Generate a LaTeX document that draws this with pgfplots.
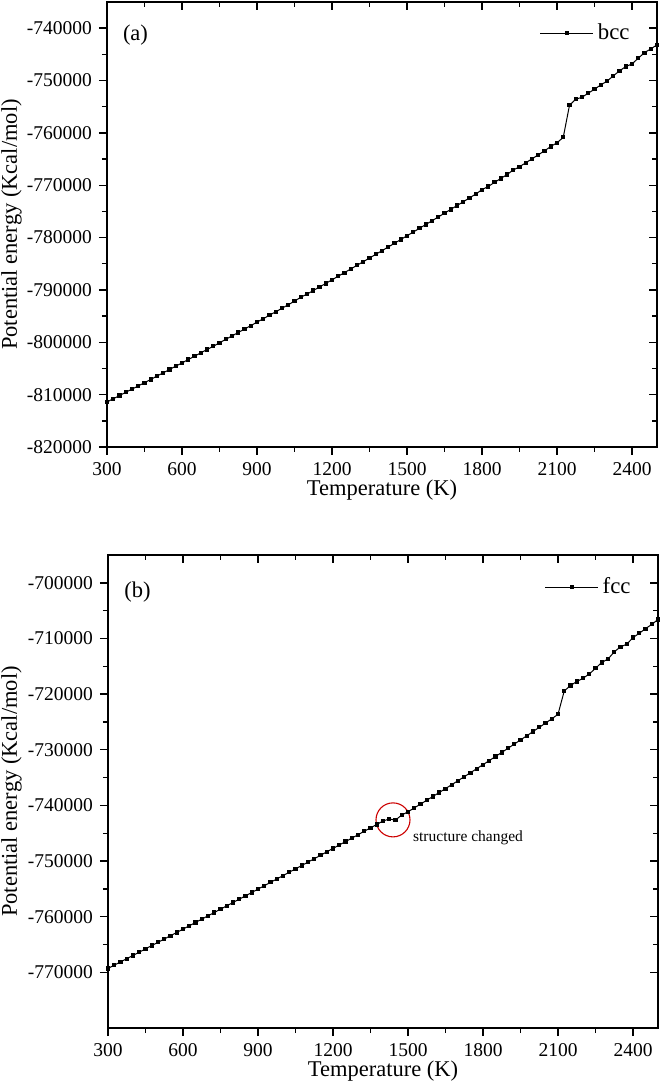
\documentclass[border=0pt]{standalone}
\usepackage{fontspec}
\setmainfont{Liberation Serif}
\usepackage{pgfplots}
\pgfplotsset{compat=1.18}
\usepackage{pgfplotstable}

\pgfplotstableread{
T E
300 -811400
325 -810790
350 -810180
375 -809560
400 -808950
425 -808330
450 -807710
475 -807090
500 -806460
525 -805830
550 -805200
575 -804570
600 -803940
625 -803300
650 -802660
675 -802020
700 -801380
725 -800780
750 -800090
775 -799440
800 -798790
825 -798130
850 -797480
875 -796820
900 -796160
925 -795500
950 -794830
975 -794170
1000 -793500
1025 -792830
1050 -792150
1075 -791400
1100 -790800
1125 -790120
1150 -789440
1175 -788760
1200 -788070
1225 -787380
1250 -786690
1275 -786000
1300 -785300
1325 -784610
1350 -783910
1375 -783200
1400 -782500
1425 -781800
1450 -781090
1475 -780380
1500 -779660
1525 -778950
1550 -778230
1575 -777510
1600 -776790
1625 -776070
1650 -775340
1675 -774620
1700 -773890
1725 -773160
1750 -772420
1775 -771680
1800 -770850
1825 -770250
1850 -769460
1875 -768720
1900 -767970
1925 -767100
1950 -766470
1975 -765710
2000 -764960
2025 -764200
2050 -763440
2075 -762600
2100 -761900
2125 -760850
2150 -754720
2175 -753580
2200 -753190
2225 -752430
2250 -751660
2275 -750840
2300 -750130
2325 -749120
2350 -748160
2375 -747340
2400 -746830
2425 -745740
2450 -744670
2475 -743960
2500 -743190
}\bcc

\pgfplotstableread{
T E
300 -769300
325 -768720
350 -768130
375 -767550
400 -766960
425 -766370
450 -765780
475 -765190
500 -764600
525 -764010
550 -763420
575 -762830
600 -762240
625 -761630
650 -761040
675 -760440
700 -759840
725 -759250
750 -758650
775 -758050
800 -757450
825 -756850
850 -756250
875 -755650
900 -755040
925 -754440
950 -753830
975 -753230
1000 -752620
1025 -752010
1050 -751410
1075 -750800
1100 -750190
1125 -749580
1150 -748970
1175 -748340
1200 -747730
1225 -747120
1250 -746500
1275 -745890
1300 -745270
1325 -744650
1350 -744030
1375 -743420
1400 -742800
1425 -742440
1450 -742630
1475 -741730
1500 -741140
1525 -740450
1550 -739770
1575 -739070
1600 -738380
1625 -737680
1650 -736980
1675 -736270
1700 -735560
1725 -734840
1750 -734120
1775 -733400
1800 -732670
1825 -731950
1850 -731210
1875 -730480
1900 -729730
1925 -728990
1950 -728240
1975 -727490
2000 -726730
2025 -725970
2050 -725210
2075 -724440
2100 -723630
2125 -719430
2150 -718460
2175 -717740
2200 -717150
2225 -716380
2250 -715370
2275 -714300
2300 -713700
2325 -712400
2350 -711500
2375 -711030
2400 -709840
2425 -709070
2450 -708240
2475 -707470
2500 -706580
}\fcc

\pgfplotsset{
  base/.style={
    scale only axis, width=275pt, anchor=south west,
    xmin=300, xmax=2500,
    xtick={300,600,...,2400}, minor x tick num=1, minor y tick num=1,
    axis line style={line width=0.9pt, black},
    every tick/.style={line width=0.7pt, black},
    major tick length=4pt, minor tick length=2.5pt,
    scaled ticks=false,
    /pgf/number format/assume math mode=true,
    /pgf/number format/1000 sep={},
    yticklabel style={/pgf/number format/fixed, /pgf/number format/precision=0},
    tick label style={font=\fontsize{9.75}{11}\selectfont},
  },
  outer/.style={
    base, tick align=outside, xtick pos=left, ytick pos=left,
    xlabel={Temperature (K)}, ylabel={Potential energy (Kcal/mol)},
    label style={font=\fontsize{11.25}{13}\selectfont},
    legend style={draw=none, fill=none, anchor=east, inner sep=0pt,
      font=\fontsize{11.4}{13}\selectfont},
    legend cell align=left,
    legend image code/.code={\draw[##1, mark repeat=2, mark phase=2] plot coordinates {(0pt,0pt) (13.25pt,0pt) (26.5pt,0pt)};},
  },
  inner/.style={
    base, tick align=inside, xtick pos=right, ytick pos=right,
    xticklabels={}, yticklabels={},
  },
  ser/.style={black, line width=0.5pt, mark=square*, mark size=0.8pt, mark options={solid}},
}

\begin{document}
\begin{tikzpicture}
\useasboundingbox (0,0) rectangle (331pt,541pt);
% panel (a)
\begin{axis}[outer, at={(53.5pt,317.5pt)}, height=222.5pt,
  ymin=-820000, ymax=-735000,
  ytick={-820000,-810000,-800000,-790000,-780000,-770000,-760000,-750000,-740000},
  xlabel style={at={(axis description cs:0.5,-0.0966)}, anchor=center},
  ylabel style={at={(axis description cs:-0.1736,0.5)}, anchor=center},
  legend style={at={(axis description cs:0.958,0.9297)}}]
\addplot[ser] table[x=T, y=E] {\bcc};
\addlegendentry{bcc}
\node[font=\fontsize{11.25}{13}\selectfont] at (axis description cs:0.0518,0.926) {(a)};
\end{axis}
\begin{axis}[inner, at={(53.5pt,317.5pt)}, height=222.5pt,
  ymin=-820000, ymax=-735000,
  ytick={-820000,-810000,-800000,-790000,-780000,-770000,-760000,-750000,-740000}]
\end{axis}
% panel (b)
\begin{axis}[outer, at={(54pt,27pt)}, height=236.5pt,
  ymin=-780000, ymax=-695000,
  ytick={-770000,-760000,-750000,-740000,-730000,-720000,-710000,-700000},
  xlabel style={at={(axis description cs:0.5,-0.0909)}, anchor=center},
  ylabel style={at={(axis description cs:-0.1755,0.5)}, anchor=center},
  legend style={at={(axis description cs:0.958,0.9323)}}]
\addplot[ser] table[x=T, y=E] {\fcc};
\addlegendentry{fcc}
\node[font=\fontsize{11.25}{13}\selectfont] at (axis description cs:0.0536,0.922) {(b)};
\draw[red!80!black, line width=0.55pt] (axis cs:1440,-742600) circle[radius=8.5pt];
\node[anchor=west, font=\fontsize{7.75}{9}\selectfont, inner sep=0pt] at (axis cs:1519,-742600) [yshift=-9pt] {structure changed};
\end{axis}
\begin{axis}[inner, at={(54pt,27pt)}, height=236.5pt,
  ymin=-780000, ymax=-695000,
  ytick={-770000,-760000,-750000,-740000,-730000,-720000,-710000,-700000}]
\end{axis}
\end{tikzpicture}
\end{document}
